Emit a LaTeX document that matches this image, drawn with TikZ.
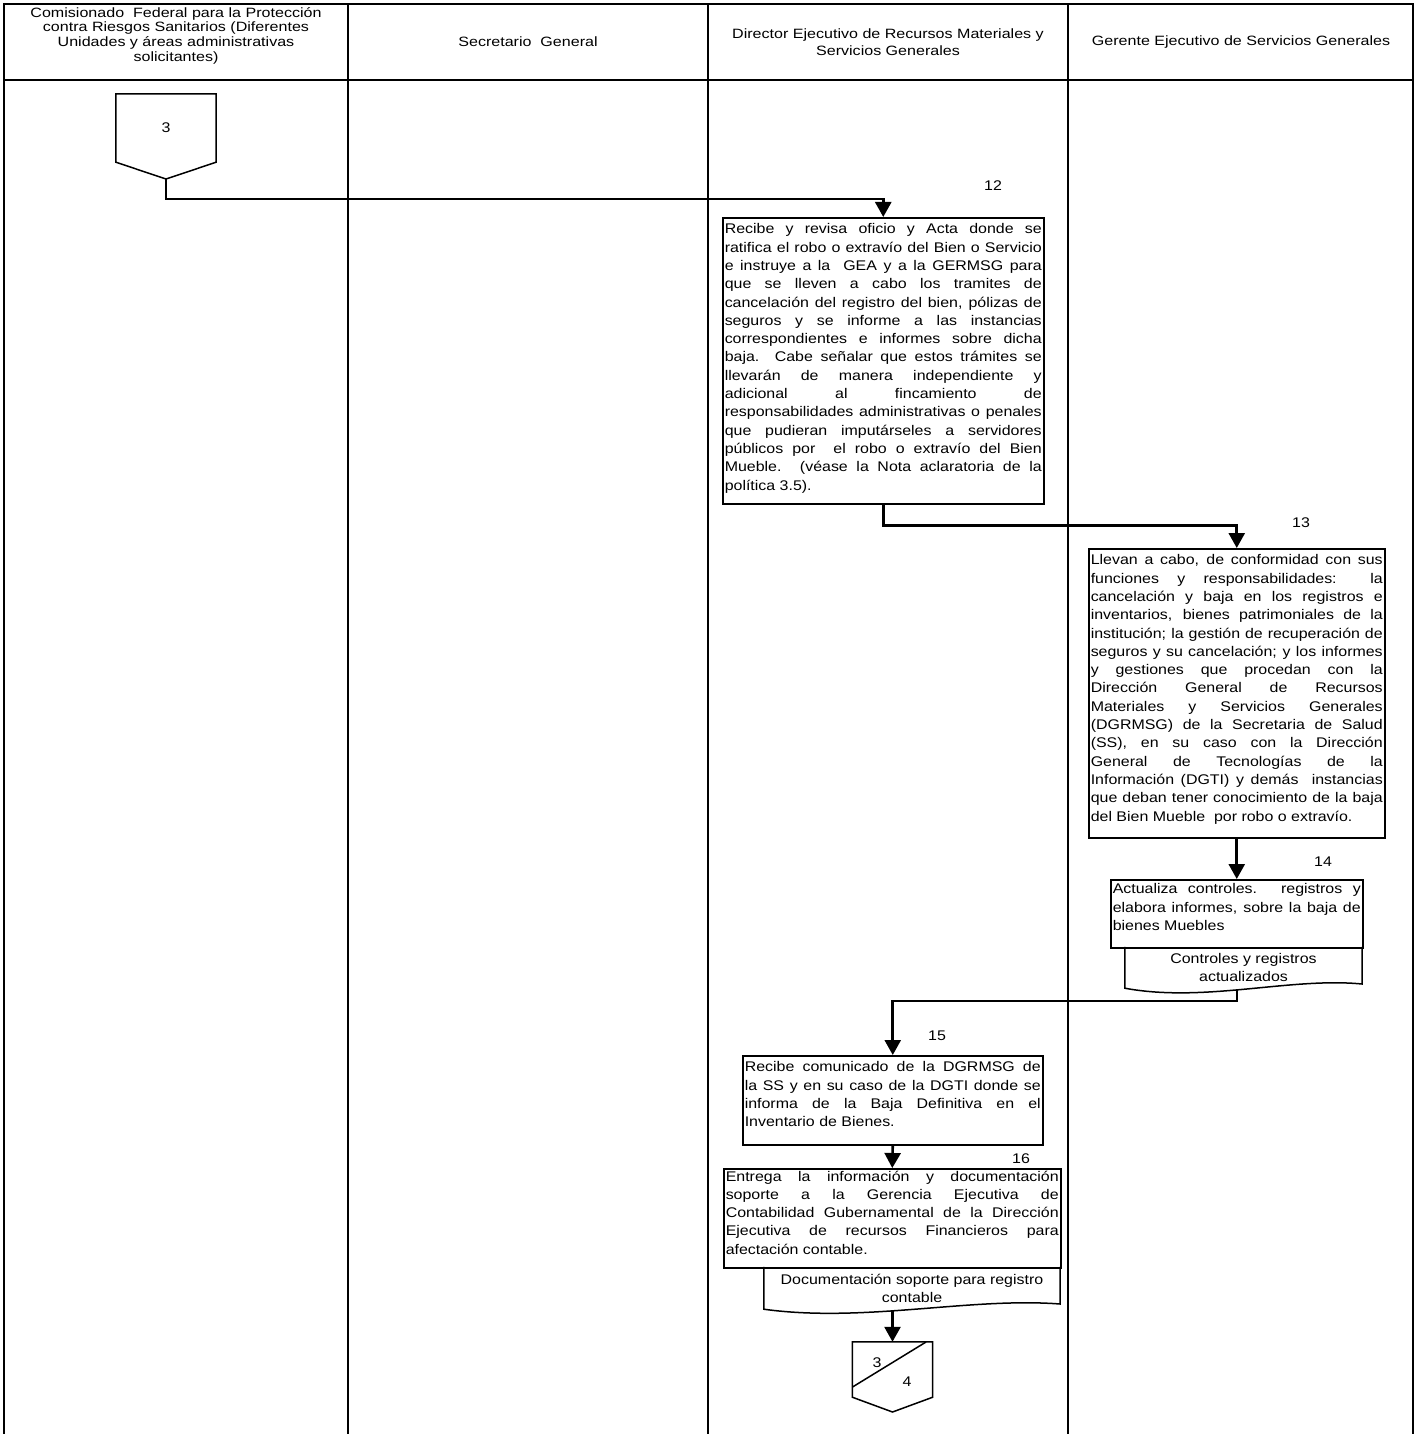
\documentclass[tikz,border=0pt]{standalone}
\usepackage{fontspec}
\setmainfont{Liberation Sans}[FakeStretch=1.14]
\newfontfamily\hdrfont{Liberation Sans}[FakeStretch=1.19]
\usetikzlibrary{arrows.meta,calc}
\newcommand{\jl}[1]{\makebox[\linewidth][s]{#1}\par}
\newcommand{\procbox}[4]{\begin{minipage}[t][#2][t]{#1}\fontsize{14}{18.3}\selectfont\setlength{\parindent}{0pt}\setlength{\parskip}{0pt}\vspace*{#3}#4\end{minipage}}
\begin{document}
\begin{tikzpicture}[x=1pt,y=-1pt,
  frame/.style={line width=2pt},
  conn/.style={line width=2.6pt,-{Triangle[width=16pt,length=15pt]}},
  proc/.style={draw,line width=1.5pt,anchor=north west,inner sep=2pt},
  outline/.style={line width=1.5pt},
  txt/.style={font=\fontsize{14}{17}\selectfont,inner sep=0pt},
  hdr/.style={align=center,font=\hdrfont\fontsize{13.5}{14.7}\selectfont,inner sep=0pt}
]
\useasboundingbox (0,0) rectangle (1416,1434);
% frame
\draw[frame] (4,1434) -- (4,4) -- (1413,4) -- (1413,1434);
\draw[frame] (4,80) -- (1413,80);
\draw[frame] (348,4) -- (348,1434);
\draw[frame] (708,4) -- (708,1434);
\draw[frame] (1068,4) -- (1068,1434);
% headers
\node[hdr] (h1) at (176,35.5) {Comisionado \ Federal para la Protección\\contra Riesgos Sanitarios (Diferentes\\Unidades y áreas administrativas\\solicitantes)};
\node[hdr] (h2) at (528,42) {Secretario \ General};
\node[hdr,font=\hdrfont\fontsize{13.5}{17}\selectfont] (h3) at (888,42) {Director Ejecutivo de Recursos Materiales y\\Servicios Generales};
\node[hdr] (h4) at (1241,42) {Gerente Ejecutivo de Servicios Generales};
% start connector 3
\node[txt,minimum width=100pt,minimum height=68pt] (c3) at (166,128) {3};
\coordinate (c3tip) at (166,179);
\draw[outline] (c3.south west) -- (c3.north west) -- (c3.north east) -- (c3.south east) -- (c3tip) -- cycle;
% process boxes
\node[proc] (b12) at (722,217) {\procbox{317pt}{282pt}{4pt}{%
\jl{Recibe y revisa oficio y Acta donde se}
\jl{ratifica el robo o extravío del Bien o Servicio}
\jl{e instruye a la \ GEA y a la GERMSG para}
\jl{que se lleven a cabo los tramites de}
\jl{cancelación del registro del bien, pólizas de}
\jl{seguros y se informe a las instancias}
\jl{correspondientes e informes sobre dicha}
\jl{baja. Cabe señalar que estos trámites se}
\jl{llevarán de manera independiente y}
\jl{adicional al fincamiento de}
\jl{responsabilidades administrativas o penales}
\jl{que pudieran imputárseles a servidores}
\jl{públicos por \ el robo o extravío del Bien}
\jl{Mueble. (véase la Nota aclaratoria de la}
política 3.5).}};
\node[proc] (b13) at (1088,548) {\procbox{292pt}{285pt}{4pt}{%
\jl{Llevan a cabo, de conformidad con sus}
\jl{funciones y responsabilidades: la}
\jl{cancelación y baja en los registros e}
\jl{inventarios, bienes patrimoniales de la}
\jl{institución; la gestión de recuperación de}
\jl{seguros y su cancelación; y los informes}
\jl{y gestiones que procedan con la}
\jl{Dirección General de Recursos}
\jl{Materiales y Servicios Generales}
\jl{(DGRMSG) de la Secretaria de Salud}
\jl{(SS), en su caso con la Dirección}
\jl{General de Tecnologías de la}
\jl{Información (DGTI) y demás \ instancias}
\jl{que deban tener conocimiento de la baja}
del Bien Mueble \ por robo o extravío.}};
\node[proc] (b14) at (1110,879) {\procbox{248pt}{64pt}{2pt}{%
\jl{Actualiza controles. registros y}
\jl{elabora informes, sobre la baja de}
bienes Muebles}};
\node[proc] (b15) at (742,1055) {\procbox{296pt}{85pt}{4pt}{%
\jl{Recibe comunicado de la DGRMSG de}
\jl{la SS y en su caso de la DGTI donde se}
\jl{informa de la Baja Definitiva en el}
Inventario de Bienes.}};
\node[proc] (b16) at (723,1168) {\procbox{333pt}{95pt}{0pt}{%
\jl{Entrega la información y documentación}
\jl{soporte a la Gerencia Ejecutiva de}
\jl{Contabilidad Gubernamental de la Dirección}
\jl{Ejecutiva de recursos Financieros para}
afectación contable.}};
% documents
\node[align=center,inner sep=0pt,font=\fontsize{14}{18.5}\selectfont,minimum width=237pt,minimum height=41pt] (d14) at (1243.5,967.5) {Controles y registros\\actualizados};
\draw[outline] (d14.north west) -- (d14.south west) .. controls (1205,1003) and (1290,977) .. (1362,984) -- (d14.north east);
\coordinate (d14b) at (1237,990);
\node[align=center,inner sep=0pt,font=\fontsize{14}{18}\selectfont,minimum width=296pt,minimum height=42pt] (d16) at (912,1288) {Documentación soporte para registro\\contable};
\draw[outline] (d16.north west) -- (d16.south west) .. controls (864,1323) and (970,1297) .. (1060,1304) -- (d16.north east);
\coordinate (d16b) at (892.5,1311);
% end connector
\node[txt,minimum width=80pt,minimum height=55pt] (c4) at (892.5,1369.5) {};
\coordinate (c4tip) at (892.5,1412);
\draw[outline] (c4.south west) -- (c4.north west) -- (c4.north east) -- (c4.south east) -- (c4tip) -- cycle;
\coordinate (c4d1) at (852.5,1387);
\coordinate (c4d2) at (926,1342);
\draw[outline] (c4d1) -- (c4d2);
\node[txt] (n3) at (877,1363) {3};
\node[txt] (n4) at (907,1382) {4};
% step labels
\node[txt] (l12) at (993,186) {12};
\node[txt] (l13) at (1301,523) {13};
\node[txt] (l14) at (1323,862) {14};
\node[txt] (l15) at (937,1036) {15};
\node[txt] (l16) at (1021,1159) {16};
% connectors
\coordinate (j0) at (166,199);
\draw[conn] (c3tip) -- (j0) -| (b12.north);
\draw[conn] (b12.south) -- ++(0,21) -| (b13.north);
\draw[conn] (b13.south) -- (b14.north);
\coordinate (j1) at (1237,1001);
\draw[conn] (d14b) -- (j1) -| (b15.north);
\draw[conn] (b15.south) -- (b16.north);
\draw[conn] (d16b) -- (c4.north);
\end{tikzpicture}
\end{document}
